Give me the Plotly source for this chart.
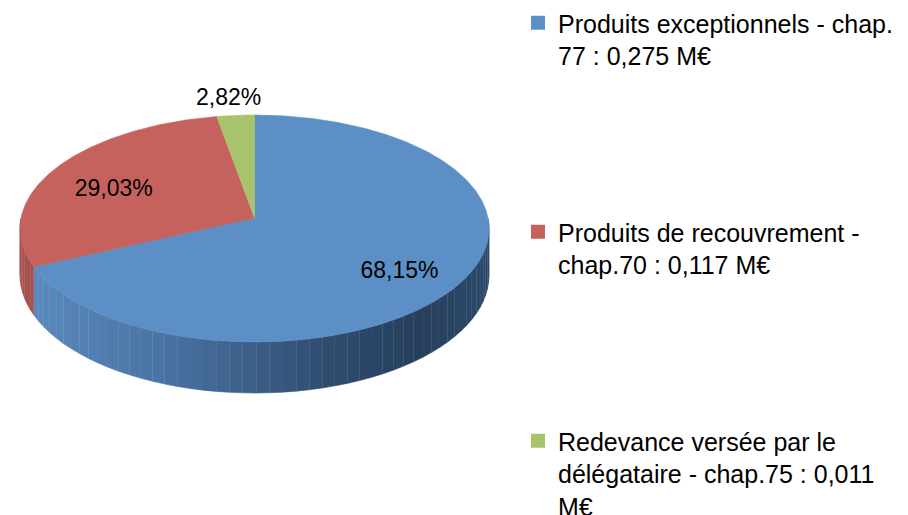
import numpy as np
import plotly.graph_objects as go

# ---------------- data ----------------
categories = [
    "Produits exceptionnels - chap.<br>77 : 0,275 M€",
    "Produits de recouvrement -<br>chap.70 : 0,117 M€",
    "Redevance versée par le<br>délégataire - chap.75 : 0,011<br>M€",
]
shares = [68.15, 29.03, 2.82]          # percent of total
label_texts = ["68,15%", "29,03%", "2,82%"]

# ---------------- style ----------------
top_colors = ["#5B8FC6", "#C6625E", "#A7C46C"]
side_colors = ["#4A74A4", "#A9524F", "#86A055"]
FONT = "Liberation Sans, Arial, sans-serif"
W, H = 908, 515

# pseudo-3D perspective geometry (pixel-like axis units)
CX, CY = 254.5, 218.0    # projected centre of the disc
RX, RY = 233.5, 112.5    # horizontal / vertical radius
U = 0.0926               # perspective strength
DEPTH = 46.3             # thickness of the disc
label_radius = [0.74, 0.66, 1.17]
label_dx = [-6, -8, -4]
label_dy = [8, 6, 0]

blue_ramp = [(21, (0x5B, 0x8B, 0xC0)), (150, (0x4B, 0x76, 0xA6)),
             (250, (0x3C, 0x5F, 0x88)), (333, (0x2E, 0x4B, 0x6E)),
             (417, (0x26, 0x3F, 0x5C)), (489, (0x2C, 0x49, 0x6A))]


def proj(theta_deg, drop=0.0, r=1.0):
    th = np.radians(theta_deg)
    w = 1 + U * r * np.cos(th)
    x = CX + RX * r * np.sin(th) / w
    y = CY - RY * r * np.cos(th) / w + drop / w
    return x, y


def ramp(x):
    xs = [p[0] for p in blue_ramp]
    cols = []
    for c in range(3):
        cols.append(int(round(np.interp(x, xs, [p[1][c] for p in blue_ramp]))))
    return "rgb(%d,%d,%d)" % tuple(cols)


def shade(hexcol, x, base_x=21, span=468):
    r, g, b = int(hexcol[1:3], 16), int(hexcol[3:5], 16), int(hexcol[5:7], 16)
    f = 1.0 - 0.45 * (x - base_x) / span
    return "rgb(%d,%d,%d)" % (r * f, g * f, b * f)


fig = go.Figure()

# slice angle ranges (clockwise from 12 o'clock)
bounds = np.concatenate([[0], np.cumsum(shares) / np.sum(shares) * 360])

# ---- sides (front half only: 90..270 deg) ----
for i in range(len(shares)):
    a0, a1 = max(bounds[i], 90), min(bounds[i + 1], 270)
    if a1 <= a0:
        continue
    n = max(1, int(np.ceil((a1 - a0) / 3.0)))
    edges = np.linspace(a0, a1, n + 1)
    for j in range(n):
        t = np.linspace(edges[j], edges[j + 1], 6)
        xt, yt = proj(t)
        xb, yb = proj(t[::-1], DEPTH)
        xm = float(np.mean(xt))
        col = ramp(xm) if i == 0 else shade(side_colors[i], xm)
        fig.add_trace(go.Scatter(
            x=np.concatenate([xt, xb]), y=np.concatenate([yt, yb]),
            mode="lines", fill="toself", fillcolor=col,
            line=dict(color=col, width=0.6),
            hoverinfo="skip", showlegend=False))

# ---- top faces ----
for i in range(len(shares)):
    t = np.linspace(bounds[i], bounds[i + 1], max(4, int((bounds[i + 1] - bounds[i]) * 2)))
    xa, ya = proj(t)
    fig.add_trace(go.Scatter(
        x=np.concatenate([[CX], xa, [CX]]), y=np.concatenate([[CY], ya, [CY]]),
        mode="lines", fill="toself", fillcolor=top_colors[i],
        line=dict(color=top_colors[i], width=0.6),
        hoverinfo="skip", showlegend=False))

# ---- data labels ----
mids = (bounds[:-1] + bounds[1:]) / 2
lx, ly = [], []
for m, r, dx, dy in zip(mids, label_radius, label_dx, label_dy):
    x, y = proj(m, r=r)
    lx.append(x + dx)
    ly.append(y + dy)
fig.add_trace(go.Scatter(
    x=lx, y=ly, mode="text", text=label_texts,
    textfont=dict(family=FONT, size=23, color="#000000"),
    hoverinfo="skip", showlegend=False))

# ---- legend entries ----
for i, name in enumerate(categories):
    fig.add_trace(go.Scatter(
        x=[None], y=[None], mode="markers", name=name,
        marker=dict(symbol="square", size=14, color=top_colors[i], line=dict(width=0)),
        legendgroup="g%d" % i, showlegend=True))

fig.update_layout(
    width=W, height=H,
    margin=dict(l=0, r=0, t=0, b=0, autoexpand=False),
    paper_bgcolor="white", plot_bgcolor="white",
    xaxis=dict(range=[0, W], visible=False, fixedrange=True),
    yaxis=dict(range=[H, 0], visible=False, fixedrange=True),
    showlegend=True,
    legend=dict(
        x=518 / W, xanchor="left", y=1.0, yanchor="top",
        font=dict(family=FONT, size=25, color="#000000"),
        tracegroupgap=141, valign="top", maxheight=800,
        bgcolor="rgba(0,0,0,0)", borderwidth=0,
        itemclick=False, itemdoubleclick=False,
    ),
)

fig.write_html("out.html", config={"displayModeBar": False},
               post_script="document.body.style.margin='0';")
